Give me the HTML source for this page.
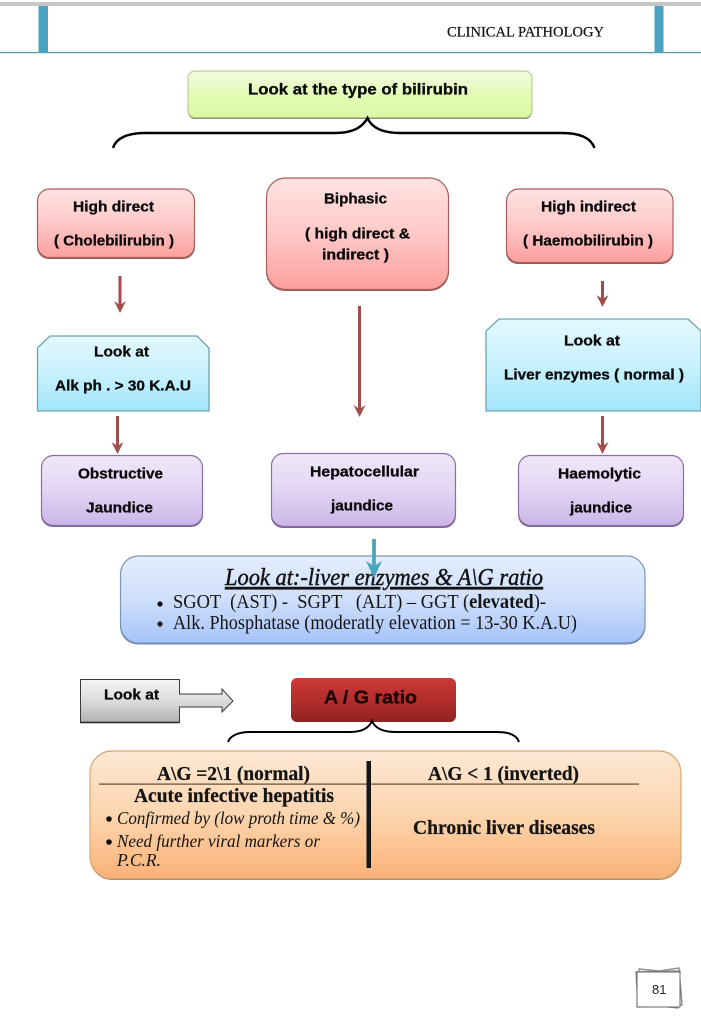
<!DOCTYPE html>
<html><head><meta charset="utf-8"><style>
html,body{margin:0;padding:0;background:#fff;width:701px;height:1024px;overflow:hidden}
svg{display:block}
.b{font-family:"Liberation Sans",sans-serif;font-weight:bold;font-size:14.5px;fill:#0a0a0a;stroke:#0a0a0a;stroke-width:.3px;transform:translateY(.7px)}
.s{font-family:"Liberation Serif",serif;fill:#141414;white-space:pre}
.h{stroke:#141414;stroke-width:.25px}
.t{stroke:#141414;stroke-width:.45px}
</style></head><body>
<svg width="701" height="1024" viewBox="0 0 701 1024" xmlns="http://www.w3.org/2000/svg">
<defs>
<linearGradient id="g" x1="0" y1="0" x2="0" y2="1"><stop offset="0" stop-color="#f3fbe0"/><stop offset=".6" stop-color="#e0fbaf"/><stop offset="1" stop-color="#dcf9a6"/></linearGradient>
<linearGradient id="r" x1="0" y1="0" x2="0" y2="1"><stop offset="0" stop-color="#fee3e2"/><stop offset=".5" stop-color="#fec9c8"/><stop offset="1" stop-color="#fb9f9e"/></linearGradient>
<linearGradient id="c" x1="0" y1="0" x2="0" y2="1"><stop offset="0" stop-color="#e3f8fe"/><stop offset=".5" stop-color="#c8f1fd"/><stop offset="1" stop-color="#a3e6fb"/></linearGradient>
<linearGradient id="p" x1="0" y1="0" x2="0" y2="1"><stop offset="0" stop-color="#f0e8f9"/><stop offset=".5" stop-color="#e2d5f3"/><stop offset="1" stop-color="#cbb6e8"/></linearGradient>
<linearGradient id="bl" x1="0" y1="0" x2="0" y2="1"><stop offset="0" stop-color="#e4edfd"/><stop offset=".5" stop-color="#cfdffb"/><stop offset="1" stop-color="#a5c3f8"/></linearGradient>
<linearGradient id="o" x1="0" y1="0" x2="0" y2="1"><stop offset="0" stop-color="#fde8d4"/><stop offset=".5" stop-color="#fcd5ae"/><stop offset="1" stop-color="#fab277"/></linearGradient>
<linearGradient id="gr" x1="0" y1="0" x2="0" y2="1"><stop offset="0" stop-color="#f4f4f4"/><stop offset=".5" stop-color="#dcdcdc"/><stop offset="1" stop-color="#b0b0b0"/></linearGradient>
<linearGradient id="dr" x1="0" y1="0" x2="0" y2="1"><stop offset="0" stop-color="#cc3a38"/><stop offset=".5" stop-color="#b32d2b"/><stop offset="1" stop-color="#8e2422"/></linearGradient>
</defs>

<!-- header -->
<rect x="0" y="2" width="701" height="4" fill="#c6c6c6"/>
<rect x="0" y="52" width="701" height="1.2" fill="#5c96a8"/>
<rect x="38.500" y="6" width="9.500" height="47" fill="#4ba3c3"/>
<rect x="654.500" y="6" width="9" height="47" fill="#4ba3c3"/>
<text class="s h" x="447" y="36.500" font-size="14.500" textLength="157" lengthAdjust="spacingAndGlyphs">CLINICAL PATHOLOGY</text>

<!-- green -->
<rect x="188" y="73" width="344" height="46" rx="7" fill="#8f9670"/>
<rect x="188" y="71" width="344" height="46.500" rx="7" fill="url(#g)" stroke="#b6c08c" stroke-width="1"/>
<text class="b" x="248" y="94" textLength="220" lengthAdjust="spacingAndGlyphs" style="font-size:15.500px">Look at the type of bilirubin</text>

<!-- top brace -->
<path d="M113 148 C116 138 128 133 145 133 L335 133 C352 133 362 128 367.500 118 C372 128 383 133 400 133 L562 133 C580 133 591 138 594.500 148" fill="none" stroke="#000" stroke-width="2.400"/>

<!-- red boxes -->
<g fill="#9a5554">
<rect x="37" y="191" width="158" height="68" rx="12"/>
<rect x="266" y="180" width="183" height="111" rx="19"/>
<rect x="506" y="191" width="167.500" height="73" rx="12"/>
</g>
<rect x="37.500" y="189" width="157" height="68.500" rx="12" fill="url(#r)" stroke="#a8605f" stroke-width="1.200"/>
<rect x="266.500" y="178" width="182" height="111.500" rx="19" fill="url(#r)" stroke="#a8605f" stroke-width="1.200"/>
<rect x="506.500" y="189" width="166.500" height="73.500" rx="12" fill="url(#r)" stroke="#a8605f" stroke-width="1.200"/>
<text class="b" x="73" y="211" textLength="81" lengthAdjust="spacingAndGlyphs">High direct</text>
<text class="b" x="54" y="245" textLength="120" lengthAdjust="spacingAndGlyphs">( Cholebilirubin )</text>
<text class="b" x="324" y="203" textLength="63" lengthAdjust="spacingAndGlyphs">Biphasic</text>
<text class="b" x="305" y="238" textLength="105" lengthAdjust="spacingAndGlyphs">( high direct &amp;</text>
<text class="b" x="322" y="259" textLength="67" lengthAdjust="spacingAndGlyphs">indirect )</text>
<text class="b" x="541" y="211" textLength="95" lengthAdjust="spacingAndGlyphs">High indirect</text>
<text class="b" x="523" y="245" textLength="130" lengthAdjust="spacingAndGlyphs">( Haemobilirubin )</text>

<!-- cyan snips -->
<path d="M37.500 348 L50 336 H197 L209 348 V411 H37.500Z" fill="url(#c)" stroke="#6fa3ad" stroke-width="1.300"/>
<path d="M486 331 L499 319 H688 L701 331 V411 H486Z" fill="url(#c)" stroke="#6fa3ad" stroke-width="1.300"/>
<text class="b" x="94" y="356" textLength="55" lengthAdjust="spacingAndGlyphs">Look at</text>
<text class="b" x="55" y="390" textLength="136" lengthAdjust="spacingAndGlyphs">Alk ph . &gt; 30 K.A.U</text>
<text class="b" x="564" y="345" textLength="56" lengthAdjust="spacingAndGlyphs">Look at</text>
<text class="b" x="504" y="379" textLength="180" lengthAdjust="spacingAndGlyphs">Liver enzymes ( normal )</text>

<!-- purple -->
<rect x="41" y="457" width="162" height="70" rx="12" fill="#7c6496"/>
<rect x="271" y="455" width="185" height="73" rx="12" fill="#7c6496"/>
<rect x="518" y="457" width="166" height="70" rx="12" fill="#7c6496"/>
<rect x="41.500" y="455.500" width="161" height="70" rx="12" fill="url(#p)" stroke="#8a6fa6" stroke-width="1.200"/>
<rect x="271.500" y="453.500" width="184" height="73" rx="12" fill="url(#p)" stroke="#8a6fa6" stroke-width="1.200"/>
<rect x="518.500" y="455.500" width="165" height="70" rx="12" fill="url(#p)" stroke="#8a6fa6" stroke-width="1.200"/>
<text class="b" x="78" y="478" textLength="85" lengthAdjust="spacingAndGlyphs">Obstructive</text>
<text class="b" x="86" y="512" textLength="67" lengthAdjust="spacingAndGlyphs">Jaundice</text>
<text class="b" x="310" y="476" textLength="109" lengthAdjust="spacingAndGlyphs">Hepatocellular</text>
<text class="b" x="331" y="510" textLength="62" lengthAdjust="spacingAndGlyphs">jaundice</text>
<text class="b" x="558" y="478" textLength="83" lengthAdjust="spacingAndGlyphs">Haemolytic</text>
<text class="b" x="570" y="512" textLength="62" lengthAdjust="spacingAndGlyphs">jaundice</text>

<!-- red arrows -->
<g fill="none" stroke="#a14d4c" stroke-width="3">
<path d="M120 276 V309"/>
<path d="M359.500 306 V413"/>
<path d="M602.500 281 V303"/>
<path d="M117.500 416 V450"/>
<path d="M602.500 416 V450"/>
</g>
<g fill="#a14d4c">
<path d="M114 301 L120 305 L126 301 L120 313Z"/>
<path d="M353.500 405 L359.500 409 L365.500 405 L359.500 417Z"/>
<path d="M596.500 295 L602.500 299 L608.500 295 L602.500 307Z"/>
<path d="M111.500 442 L117.500 446 L123.500 442 L117.500 454Z"/>
<path d="M596.500 442 L602.500 446 L608.500 442 L602.500 454Z"/>
</g>

<!-- blue -->
<rect x="120" y="558" width="525.500" height="86.500" rx="18" fill="#6d87a8"/>
<rect x="120.500" y="556" width="524.500" height="87" rx="18" fill="url(#bl)" stroke="#7b97b8" stroke-width="1.200"/>
<text class="s t" x="225" y="585" font-size="24" font-style="italic" textLength="318" lengthAdjust="spacingAndGlyphs" text-decoration="underline">Look at:-liver enzymes &amp; A\G ratio</text>
<circle cx="160" cy="604" r="2.600" fill="#111"/>
<text class="s" x="173" y="608" font-size="20" textLength="373" lengthAdjust="spacingAndGlyphs">SGOT  (AST) -  SGPT   (ALT) – GGT (<tspan font-weight="bold">elevated</tspan>)-</text>
<circle cx="160" cy="624" r="2.600" fill="#111"/>
<text class="s" x="173" y="629" font-size="20" textLength="404" lengthAdjust="spacingAndGlyphs">Alk. Phosphatase (moderatly elevation = 13-30 K.A.U)</text>

<!-- teal arrow -->
<path d="M374 539 V575" stroke="#4ba6bd" stroke-width="3.800" fill="none"/>
<path d="M366 561 L374 566 L382 561 L374 578Z" fill="#4ba6bd"/>

<!-- look at gray -->
<path d="M80.500 679.500 H179.500 V694 H222 V689 L233 701 L222 712 V707 H179.500 V722.500 H80.500Z" fill="url(#gr)" stroke="#3a3a3a" stroke-width="1"/>
<path d="M80.500 722.500 H179.500" stroke="#222" stroke-width="1.600"/>
<text class="b" x="104" y="699" textLength="55" lengthAdjust="spacingAndGlyphs">Look at</text>

<!-- dark red -->
<rect x="291" y="678" width="165" height="44" rx="6" fill="url(#dr)"/>
<text class="b" x="324" y="703" textLength="93" lengthAdjust="spacingAndGlyphs" style="font-size:18px;fill:#1a0505;stroke:#1a0505">A / G ratio</text>

<!-- lower brace -->
<path d="M228 742 C230 736 238 732 250 732 L350 732 C362 732 369 728 372 721 C375 728 383 732 395 732 L497 732 C510 732 517 736 519 742" fill="none" stroke="#000" stroke-width="2"/>

<!-- orange -->
<rect x="90" y="753" width="591.500" height="127" rx="22" fill="#a98a6a"/>
<rect x="90" y="751" width="591" height="127.500" rx="22" fill="url(#o)" stroke="#d9a66f" stroke-width="1.200"/>
<text class="s h" x="157" y="780" font-size="20" font-weight="bold" textLength="153" lengthAdjust="spacingAndGlyphs">A\G =2\1 (normal)</text>
<text class="s h" x="428" y="780" font-size="20" font-weight="bold" textLength="151" lengthAdjust="spacingAndGlyphs">A\G &lt; 1 (inverted)</text>
<rect x="99" y="783.500" width="540" height="1.200" fill="#5f4a35"/>
<rect x="366.500" y="761" width="4.500" height="107" fill="#161616"/>
<text class="s h" x="134" y="802" font-size="20" font-weight="bold" textLength="200" lengthAdjust="spacingAndGlyphs">Acute infective hepatitis</text>
<circle cx="109" cy="819" r="2.800" fill="#111"/>
<text class="s" x="117" y="824" font-size="18" font-style="italic" textLength="243" lengthAdjust="spacingAndGlyphs">Confirmed by (low proth time &amp; %)</text>
<circle cx="109" cy="842" r="2.800" fill="#111"/>
<text class="s" x="117" y="847" font-size="18" font-style="italic" textLength="203" lengthAdjust="spacingAndGlyphs">Need further viral markers or</text>
<text class="s" x="117" y="866" font-size="18" font-style="italic" textLength="44" lengthAdjust="spacingAndGlyphs">P.C.R.</text>
<text class="s h" x="413" y="834" font-size="20" font-weight="bold" textLength="182" lengthAdjust="spacingAndGlyphs">Chronic liver diseases</text>

<!-- page number -->
<g fill="#fff" stroke="#8c8c8c" stroke-width="1.400">
<path d="M639 969 L659 971 L679 968 L682 1005 L660 1004 L637 1006Z"/>
<path d="M636 972 L680 971 L678 1008 L660 1006 L638 1007Z"/>
<rect x="637" y="972" width="43" height="35" stroke="#666" stroke-width="1"/>
</g>
<text x="652" y="994" font-size="13" fill="#222" font-family="'Liberation Sans',sans-serif">81</text>
</svg>
</body></html>
